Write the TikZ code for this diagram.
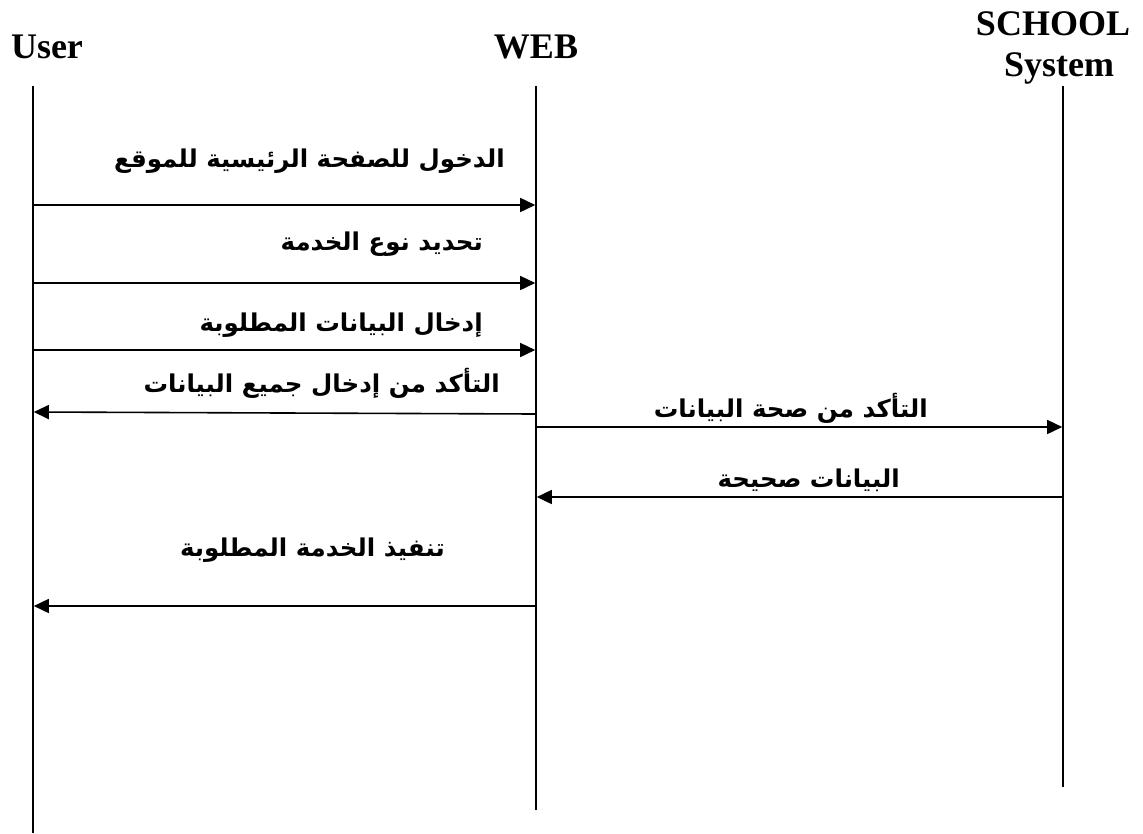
\documentclass[tikz,border=0pt]{standalone}
\usepackage{fontspec}
\setmainfont{Liberation Serif}
\newfontfamily\arabicfont[Script=Arabic]{DejaVu Sans}
\TeXXeTstate=1
\usetikzlibrary{arrows.meta}
\tikzset{
  head/.style={font=\fontsize{36}{38}\selectfont\bfseries, inner sep=0pt, align=center},
  lifeline/.style={line width=1.6pt, black},
  msg/.style={line width=1.6pt, black, -{Triangle[length=15pt,width=14pt]}, shorten >=0.8pt},
  arlabel/.style={font=\arabicfont\bfseries\fontsize{24.5}{28}\selectfont, inner sep=0pt, anchor=base east}
}
\newcommand{\ar}[1]{\beginR #1\endR}
\begin{document}
\begin{tikzpicture}[x=1pt,y=-1pt]
\useasboundingbox (0,0) rectangle (1143,833);
% heads
\node[head, anchor=base] (huser) at (47,58) {User};
\node[head, anchor=base] (hweb) at (536,58) {WEB};
\node[head, anchor=base] (hschool) at (1053,35) {SCHOOL};
\node[head, anchor=base] (hsys) at (1059,76) {System};
% lifelines
\coordinate (ut) at (33,86); \coordinate (ub) at (33,833);
\coordinate (wt) at (536,86); \coordinate (wb) at (536,810);
\coordinate (st) at (1063,86); \coordinate (sb) at (1063,787);
\draw[lifeline] (ut) -- (ub);
\draw[lifeline] (wt) -- (wb);
\draw[lifeline] (st) -- (sb);
% message points
\coordinate (u1) at (33,205); \coordinate (w1) at (536,205);
\coordinate (u2) at (33,283); \coordinate (w2) at (536,283);
\coordinate (u3) at (33,350); \coordinate (w3) at (536,350);
\coordinate (u4) at (33,412); \coordinate (w4) at (536,414);
\coordinate (w5) at (536,427); \coordinate (s5) at (1063,427);
\coordinate (w6) at (536,497); \coordinate (s6) at (1063,497);
\coordinate (u7) at (33,606); \coordinate (w7) at (536,606);
\draw[msg] (u1) -- (w1);
\draw[msg] (u2) -- (w2);
\draw[msg] (u3) -- (w3);
\draw[msg] (w4) -- (u4);
\draw[msg] (w5) -- (s5);
\draw[msg] (s6) -- (w6);
\draw[msg] (w7) -- (u7);
% labels
\node[arlabel] (l1) at (505,167) {\ar{الدخول للصفحة الرئيسية للموقع}};
\node[arlabel] (l2) at (483,250) {\ar{تحديد نوع الخدمة}};
\node[arlabel] (l3) at (483,331) {\ar{إدخال البيانات المطلوبة}};
\node[arlabel] (l4) at (500,392) {\ar{التأكد من إدخال جميع البيانات}};
\node[arlabel] (l5) at (928,417) {\ar{التأكد من صحة البيانات}};
\node[arlabel] (l6) at (900,487) {\ar{البيانات صحيحة}};
\node[arlabel] (l7) at (445,556) {\ar{تنفيذ الخدمة المطلوبة}};
\end{tikzpicture}
\end{document}
